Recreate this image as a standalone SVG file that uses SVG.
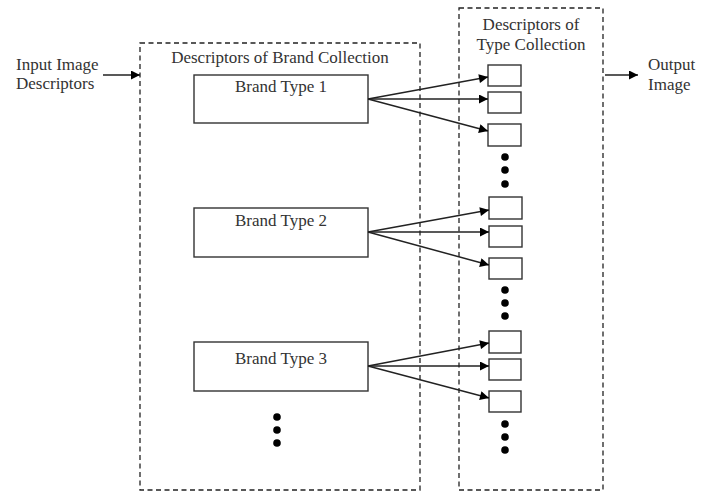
<svg xmlns="http://www.w3.org/2000/svg" width="702" height="491" viewBox="0 0 702 491">
<defs>
<style>
text{font-family:"Liberation Serif","Times New Roman",serif;font-size:17px;fill:#333}
.dash{fill:none;stroke:#222;stroke-width:1.3;stroke-dasharray:5 3.5}
.box{fill:#fff;stroke:#333;stroke-width:1.4}
.arr{stroke:#222;stroke-width:1.5;fill:none;marker-end:url(#ah)}
.dot{fill:#000}
</style>
<marker id="ah" viewBox="0 0 10 10" refX="10" refY="5" markerWidth="12" markerHeight="9" markerUnits="userSpaceOnUse" orient="auto">
<path d="M0,0L10,5L0,10z" fill="#000"/>
</marker>
</defs>
<rect width="702" height="491" fill="#fff"/>
<g id="brand-collection">
<rect class="dash" x="140" y="43" width="280" height="447"/>
<text x="280" y="63" text-anchor="middle">Descriptors of Brand Collection</text>
</g>
<g id="type-collection">
<rect class="dash" x="459" y="8" width="144" height="482"/>
<text x="531" y="30" text-anchor="middle">Descriptors of</text>
<text x="531" y="50" text-anchor="middle">Type Collection</text>
</g>
<g id="input">
<text x="16" y="70">Input Image</text>
<text x="16" y="89">Descriptors</text>
</g>
<g id="output">
<text x="648" y="70">Output</text>
<text x="648" y="90">Image</text>
</g>
<g id="brand1"><rect class="box" x="194" y="75" width="174" height="48"/><text x="281" y="92" text-anchor="middle">Brand Type 1</text></g>
<g id="brand2"><rect class="box" x="194" y="208" width="174" height="49"/><text x="281" y="226" text-anchor="middle">Brand Type 2</text></g>
<g id="brand3"><rect class="box" x="194" y="342" width="174" height="49"/><text x="281" y="364" text-anchor="middle">Brand Type 3</text></g>
<g id="t1a"><rect class="box" x="488" y="65" width="33" height="21"/></g>
<g id="t1b"><rect class="box" x="488" y="92" width="33" height="21"/></g>
<g id="t1c"><rect class="box" x="488" y="124" width="33" height="22"/></g>
<g id="t2a"><rect class="box" x="489" y="197" width="33" height="22"/></g>
<g id="t2b"><rect class="box" x="489" y="226" width="33" height="21"/></g>
<g id="t2c"><rect class="box" x="489" y="258" width="33" height="21"/></g>
<g id="t3a"><rect class="box" x="489" y="331" width="32" height="22"/></g>
<g id="t3b"><rect class="box" x="489" y="359" width="32" height="21"/></g>
<g id="t3c"><rect class="box" x="489" y="391" width="32" height="21"/></g>
<g id="dots">
<circle class="dot" cx="505" cy="157" r="3.8"/><circle class="dot" cx="505" cy="170" r="3.8"/><circle class="dot" cx="505" cy="184" r="3.8"/>
<circle class="dot" cx="505" cy="290" r="3.8"/><circle class="dot" cx="505" cy="303" r="3.8"/><circle class="dot" cx="505" cy="316" r="3.8"/>
<circle class="dot" cx="505" cy="424" r="3.8"/><circle class="dot" cx="505" cy="437" r="3.8"/><circle class="dot" cx="505" cy="450" r="3.8"/>
<circle class="dot" cx="277" cy="417" r="3.8"/><circle class="dot" cx="277" cy="430" r="3.8"/><circle class="dot" cx="277" cy="443" r="3.8"/>
</g>
<g id="connectors">
<line class="arr" x1="103" y1="75" x2="140" y2="75"/>
<line class="arr" x1="605" y1="75" x2="638" y2="75"/>
<line class="arr" x1="368" y1="99" x2="488" y2="77"/>
<line class="arr" x1="368" y1="99" x2="488" y2="99"/>
<line class="arr" x1="368" y1="99" x2="488" y2="131"/>
<line class="arr" x1="368" y1="232" x2="489" y2="210"/>
<line class="arr" x1="368" y1="232" x2="489" y2="232"/>
<line class="arr" x1="368" y1="232" x2="489" y2="265"/>
<line class="arr" x1="368" y1="366" x2="489" y2="343"/>
<line class="arr" x1="368" y1="366" x2="489" y2="366"/>
<line class="arr" x1="368" y1="366" x2="489" y2="398"/>
</g>
</svg>
